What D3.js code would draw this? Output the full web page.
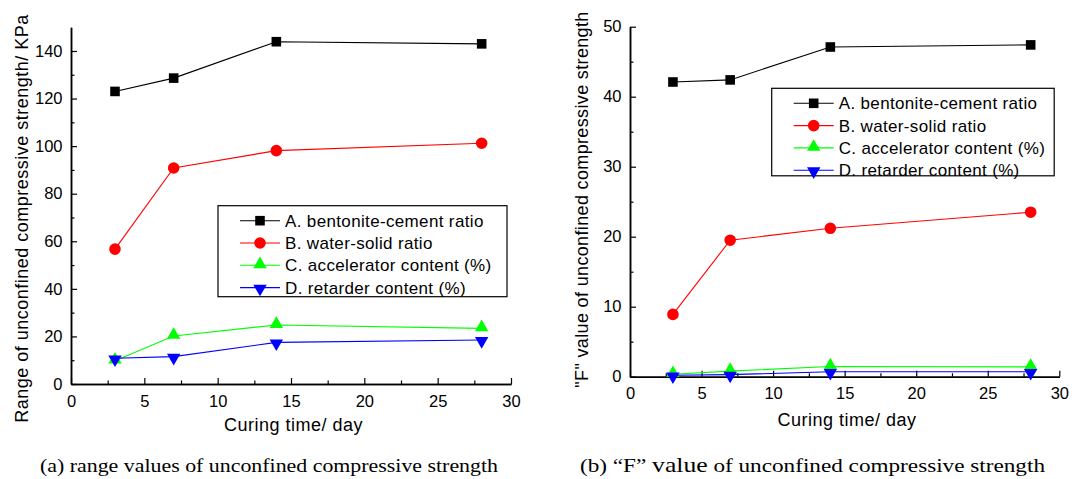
<!DOCTYPE html>
<html>
<head>
<meta charset="utf-8">
<script src="https://cdn.jsdelivr.net/npm/d3@7"></script>
<style>
  body { margin: 0; background: #fff; }
  svg text { font-family: "Liberation Sans", Arial, sans-serif; }
</style>
</head>
<body>
<div id="chart"></div>
<script>
// curing days
var days = [3, 7, 14, 28];

// legend names
var seriesNames = ["A. bentonite-cement ratio", "B. water-solid ratio",
                   "C. accelerator content (%)", "D. retarder content (%)"];
var seriesColors = ["#000000", "#ff0000", "#00ff00", "#0000ff"];
var seriesShapes = ["square", "circle", "up", "down"];

// (a) range values, KPa
var rangeA = [123, 128.6, 143.9, 143];
var rangeB = [56.7, 90.8, 98.1, 101.2];
var rangeC = [9.8, 20.2, 24.8, 23.4];
var rangeD = [10.8, 11.5, 17.5, 18.5];

// (b) "F" values
var fA = [42.1, 42.4, 47.1, 47.4];
var fB = [8.9, 19.5, 21.2, 23.5];
var fC = [0.35, 0.8, 1.45, 1.4];
var fD = [0.2, 0.3, 0.7, 0.7];

var xTicks = [0, 5, 10, 15, 20, 25, 30];
var yTicksA = [0, 20, 40, 60, 80, 100, 120, 140];
var yTicksB = [0, 10, 20, 30, 40, 50];

var svg = d3.select("#chart").append("svg")
    .attr("width", 1085)
    .attr("height", 479);

function drawPanel(cfg) {
    var x = d3.scaleLinear().domain([0, 30]).range([cfg.left, cfg.right]);
    var y = d3.scaleLinear().domain([0, cfg.ymax]).range([cfg.bottom, cfg.top]);
    var g = svg.append("g");

    // x axis (ticks point inward)
    var xa = g.append("g")
        .attr("transform", `translate(0,${cfg.bottom})`)
        .call(d3.axisBottom(x).tickValues(xTicks).tickSizeInner(-6).tickSizeOuter(0).tickPadding(11));
    var xm = g.append("g")
        .attr("transform", `translate(0,${cfg.bottom})`)
        .call(d3.axisBottom(x).tickValues(d3.range(2.5, 30, 5)).tickSizeInner(-3.5).tickSizeOuter(0).tickFormat(""));
    // y axis
    var ya = g.append("g")
        .attr("transform", `translate(${cfg.left},0)`)
        .call(d3.axisLeft(y).tickValues(cfg.yTicks).tickSizeInner(-6).tickSizeOuter(0).tickPadding(8.5));
    var ym = g.append("g")
        .attr("transform", `translate(${cfg.left},0)`)
        .call(d3.axisLeft(y).tickValues(cfg.yMinor).tickSizeInner(-3.5).tickSizeOuter(0).tickFormat(""));

    [xa, xm, ya, ym].forEach(function(a) {
        a.select(".domain").attr("stroke", "#000").attr("stroke-width", 1.5);
        a.selectAll(".tick line").attr("stroke", "#000").attr("stroke-width", 1.2);
        a.selectAll(".tick text").attr("font-size", 16.5).attr("fill", "#000")
            .style("font-family", "'Liberation Sans', Arial, sans-serif");
    });

    // axis titles
    g.append("text")
        .attr("x", cfg.xLabelX).attr("y", cfg.xLabelY)
        .attr("text-anchor", "middle").attr("font-size", 18)
        .attr("letter-spacing", 0.5)
        .text("Curing time/ day");
    g.append("text")
        .attr("transform", `translate(${cfg.yLabelX},${cfg.yLabelY}) rotate(-90)`)
        .attr("text-anchor", "middle").attr("font-size", 18)
        .attr("letter-spacing", cfg.yLabelSpacing)
        .text(cfg.yLabel);

    var line = d3.line().x(function(d, i) { return x(days[i]); }).y(function(d) { return y(d); });

    function marker(sel, shape, color, cx, cy) {
        var sym = shape === "square" ? d3.symbolSquare : shape === "circle" ? d3.symbolCircle : d3.symbolTriangle;
        var size = shape === "square" ? 92 : shape === "circle" ? 105 : 78;
        var rot = shape === "down" ? 180 : 0;
        var dy = shape === "up" ? -1 : shape === "down" ? 1 : 0;
        sel.append("path")
            .attr("d", d3.symbol().type(sym).size(size)())
            .attr("transform", `translate(${cx},${cy + dy}) rotate(${rot})`)
            .attr("fill", color);
    }

    cfg.series.forEach(function(vals, k) {
        g.append("path")
            .datum(vals)
            .attr("fill", "none")
            .attr("stroke", seriesColors[k])
            .attr("stroke-width", 1.1)
            .attr("d", line);
        var mg = g.append("g");
        vals.forEach(function(v, i) {
            marker(mg, seriesShapes[k], seriesColors[k], x(days[i]), y(v));
        });
    });

    // legend
    var lg = g.append("g");
    lg.append("rect")
        .attr("x", cfg.legX).attr("y", cfg.legY)
        .attr("width", cfg.legW).attr("height", cfg.legH)
        .attr("fill", "#fff").attr("stroke", "#000").attr("stroke-width", 1.2);
    seriesNames.forEach(function(name, k) {
        var ry = cfg.legY + 15 + k * 22.3;
        var lx = cfg.legX + 22;
        lg.append("line")
            .attr("x1", lx).attr("x2", lx + 40)
            .attr("y1", ry).attr("y2", ry)
            .attr("stroke", seriesColors[k]).attr("stroke-width", 1.1);
        marker(lg, seriesShapes[k], seriesColors[k], lx + 20, ry);
        lg.append("text")
            .attr("x", lx + 45).attr("y", ry + 6)
            .attr("font-size", 17)
            .attr("letter-spacing", 0.35)
            .text(name);
    });
}

drawPanel({
    left: 71, right: 511, top: 27.2, bottom: 384, ymax: 150,
    yTicks: yTicksA, yMinor: d3.range(10, 150, 20),
    yLabel: "Range of unconfined compressive strength/ KPa",
    yLabelX: 28, yLabelY: 218.5, yLabelSpacing: 0.5,
    xLabelX: 293.5, xLabelY: 431,
    series: [rangeA, rangeB, rangeC, rangeD],
    legX: 218, legY: 205.7, legW: 289, legH: 91
});

drawPanel({
    left: 630, right: 1059.3, top: 26.7, bottom: 376.7, ymax: 50,
    yTicks: yTicksB, yMinor: d3.range(5, 50, 10),
    yLabel: "\"F\" value of unconfined compressive strength",
    yLabelX: 588, yLabelY: 199.5, yLabelSpacing: 0.35,
    xLabelX: 847, xLabelY: 426,
    series: [fA, fB, fC, fD],
    legX: 771.7, legY: 88.3, legW: 282.5, legH: 87.5
});

// captions
svg.append("text")
    .attr("x", 40).attr("y", 472)
    .attr("font-size", 19)
    .attr("textLength", 458).attr("lengthAdjust", "spacingAndGlyphs")
    .style("font-family", "'Liberation Serif', 'Times New Roman', serif")
    .text("(a) range values of unconfined compressive strength");

var cap = svg.append("text")
    .attr("x", 580).attr("y", 472)
    .attr("font-size", 19)
    .attr("textLength", 465).attr("lengthAdjust", "spacingAndGlyphs")
    .style("font-family", "'Liberation Serif', 'Times New Roman', serif");
cap.append("tspan").text("(b) \u201cF\u201d ");
cap.append("tspan").attr("font-size", 21).text("value");
cap.append("tspan").text(" of unconfined compressive strength");
</script>
</body>
</html>
